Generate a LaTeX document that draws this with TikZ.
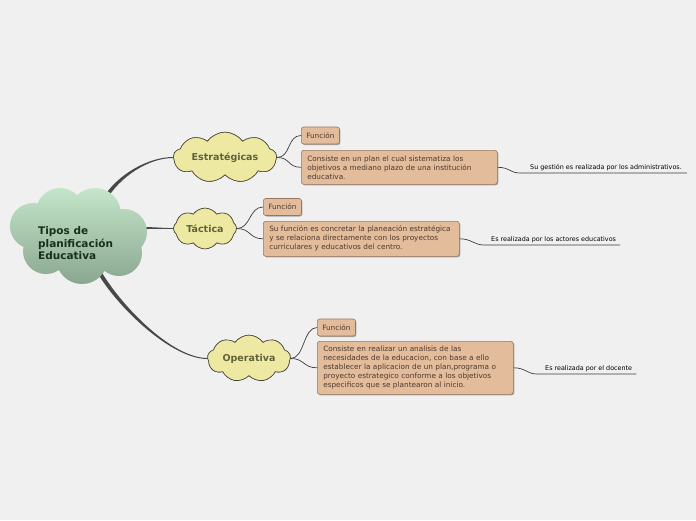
\documentclass[tikz,border=0pt]{standalone}
\usepackage{fontspec}
\setmainfont{DejaVu Sans}
\usetikzlibrary{shapes.symbols,shadows,calc}
\definecolor{bg}{RGB}{240,240,240}
\definecolor{rootA}{RGB}{196,230,202}
\definecolor{rootB}{RGB}{138,166,143}
\definecolor{roottext}{RGB}{24,48,26}
\definecolor{branch}{RGB}{72,72,72}
\definecolor{cloudfill}{RGB}{237,233,163}
\definecolor{cloudline}{RGB}{70,70,55}
\definecolor{cloudtext}{RGB}{98,98,58}
\definecolor{boxfill}{RGB}{226,188,155}
\definecolor{boxline}{RGB}{150,120,95}
\definecolor{boxtext}{RGB}{78,58,46}
\definecolor{linkcol}{RGB}{60,60,60}
\begin{document}
\begin{tikzpicture}[x=1pt,y=-1pt,
  cloudnode/.style={cloud, draw=cloudline, fill=cloudfill, line width=0.6pt,
    font=\fontsize{9.5}{11}\selectfont\bfseries, text=cloudtext, inner sep=0pt, cloud puff arc=110},
  box/.style={draw=boxline, fill=boxfill, rounded corners=2.5pt, line width=0.6pt,
    text=boxtext, font=\fontsize{7.3}{9}\selectfont,
    drop shadow={shadow xshift=1pt,shadow yshift=-1pt,fill=black,opacity=0.3}},
  func/.style={box, inner xsep=5pt, inner ysep=0pt, minimum height=17pt},
  desc/.style={box, text width=184pt, align=left, inner xsep=6pt, inner ysep=3pt},
  lbl/.style={font=\fontsize{6.4}{7.5}\selectfont, text=black, inner xsep=0pt, inner ysep=1.5pt},
  link/.style={draw=linkcol, line width=0.7pt},
  rootlabel/.style={font=\fontsize{10.5}{12.5}\selectfont\bfseries, text=roottext, align=left}
]
\useasboundingbox (0,0) rectangle (696,520);
\fill[bg] (0,0) rectangle (696,520);

% start points of main branches (inside root cloud)
\coordinate (c1) at (104,200);
\coordinate (c2) at (140,228);
\coordinate (c3) at (98,270);

% second-level clouds
\node[cloudnode, cloud puffs=9, aspect=2.6, minimum width=103pt, minimum height=38pt] (E) at (225,157.5) {Estratégicas};
\node[cloudnode, cloud puffs=8, aspect=1.6, minimum width=63pt, minimum height=38pt] (T) at (205,228.5) {Táctica};
\node[cloudnode, cloud puffs=9, aspect=2.1, minimum width=83pt, minimum height=38pt] (O) at (249,358.5) {Operativa};

% main branches (tapered)
\fill[branch] ($(c1)+(1.6,1.0)$) .. controls +(14,-24) and +(-25,0) .. ($(E.west)+(0,0.5)$)
  -- ($(E.west)+(0,-0.5)$) .. controls +(-25,0) and +(14,-24) .. ($(c1)+(-1.6,-1.0)$) -- cycle;
\fill[branch] ($(c2)+(0,1.0)$) .. controls +(15,0) and +(-12,0) .. ($(T.west)+(0,0.45)$)
  -- ($(T.west)+(0,-0.45)$) .. controls +(-12,0) and +(15,0) .. ($(c2)+(0,-1.0)$) -- cycle;
\fill[branch] ($(c3)+(1.7,-1.0)$) .. controls +(22,38) and +(-35,0) .. ($(O.west)+(0,-0.5)$)
  -- ($(O.west)+(0,0.5)$) .. controls +(-35,0) and +(22,38) .. ($(c3)+(-1.7,1.0)$) -- cycle;

% root cloud
\shade[top color=rootA, bottom color=rootB]
  (60,212) circle (24) (95,214) circle (26) (33,226) circle (23)
  (124,232) circle (23) (46,251) circle (23) (82,258) circle (26)
  (119,253) circle (23) (80,235) circle (35);
\node[rootlabel, anchor=west, inner xsep=0pt] (R) at (38,243.5) {Tipos de\\planificación\\Educativa};

% redraw clouds above branches
\node[cloudnode, cloud puffs=9, aspect=2.6, minimum width=103pt, minimum height=38pt] at (E) {Estratégicas};
\node[cloudnode, cloud puffs=8, aspect=1.6, minimum width=63pt, minimum height=38pt] at (T) {Táctica};
\node[cloudnode, cloud puffs=9, aspect=2.1, minimum width=83pt, minimum height=38pt] at (O) {Operativa};

% boxes
\node[func, anchor=west] (EF) at (301,135.5) {Función};
\node[desc, anchor=north west, minimum height=34pt] (ED) at (301,150)
  {Consiste en un plan el cual sistematiza los\\objetivos a mediano plazo de una institución\\educativa.};
\node[func, anchor=west] (TF) at (263,207) {Función};
\node[desc, anchor=north west, minimum height=35pt] (TD) at (263,221)
  {Su función es concretar la planeación estratégica\\y se relaciona directamente con los proyectos\\curriculares y educativos del centro.};
\node[func, anchor=west] (OF) at (317,327.5) {Función};
\node[desc, anchor=north west, minimum height=53pt] (OD) at (317,341)
  {Consiste en realizar un analisis de las\\necesidades de la educacion, con base a ello\\establecer la aplicacion de un plan,programa o\\proyecto estrategico conforme a los objetivos\\especificos que se plantearon al inicio.};

% cloud to boxes
\draw[link] (E.east) .. controls +(14,0) and +(-14,0) .. (EF.west);
\draw[link] (E.east) .. controls +(14,0) and +(-14,0) .. (ED.west);
\draw[link] (T.east) .. controls +(14,0) and +(-14,0) .. (TF.west);
\draw[link] (T.east) .. controls +(14,0) and +(-14,0) .. (TD.west);
\draw[link] (O.east) .. controls +(14,0) and +(-14,0) .. (OF.west);
\draw[link] (O.east) .. controls +(14,0) and +(-14,0) .. (OD.west);

% labels
\node[lbl, anchor=south west] (L1) at (530,173) {Su gestión es realizada por los administrativos.};
\node[lbl, anchor=south west] (L2) at (491,245) {Es realizada por los actores educativos};
\node[lbl, anchor=south west] (L3) at (545,374) {Es realizada por el docente};
\draw[link] (ED.east) .. controls +(12,0) and +(-10,0) .. ($(L1.south west)+(-10,0)$) -- ($(L1.south east)+(5,0)$);
\draw[link] (TD.east) .. controls +(12,0) and +(-10,0) .. ($(L2.south west)+(-7,0)$) -- ($(L2.south east)+(4,0)$);
\draw[link] (OD.east) .. controls +(12,0) and +(-10,0) .. ($(L3.south west)+(-8,0)$) -- ($(L3.south east)+(4,0)$);
\end{tikzpicture}
\end{document}
